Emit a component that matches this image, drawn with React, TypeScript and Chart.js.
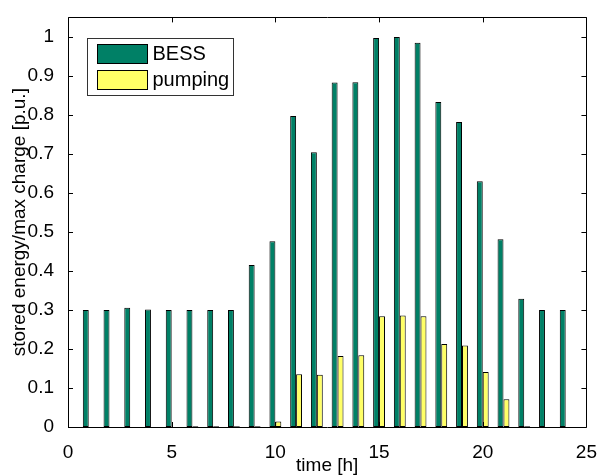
import React, { useEffect, useRef } from "react";
import { Chart, registerables } from "chart.js";

Chart.register(...registerables);

const hours = [1, 2, 3, 4, 5, 6, 7, 8, 9, 10, 11, 12, 13, 14, 15, 16, 17, 18, 19, 20, 21, 22, 23, 24];
const bess = [0.3, 0.3, 0.306, 0.301, 0.3, 0.3, 0.3, 0.3, 0.415, 0.476, 0.797, 0.704, 0.883, 0.884, 0.997, 1.0, 0.985, 0.833, 0.782, 0.63, 0.481, 0.329, 0.3, 0.3];
const pumping = [0, 0, 0, 0, 0, 0.002, 0.002, 0.002, 0.002, 0.014, 0.135, 0.134, 0.182, 0.184, 0.284, 0.286, 0.284, 0.213, 0.209, 0.141, 0.071, 0.002, 0, 0];
const xTicks = [0, 5, 10, 15, 20, 25];
const yTicks = [0, 0.1, 0.2, 0.3, 0.4, 0.5, 0.6, 0.7, 0.8, 0.9, 1];
const seriesLabels = ["BESS", "pumping"];
const seriesColors = ["#008066", "#ffff66"];

const FONT = "'Liberation Sans', Arial, Helvetica, sans-serif";
const FS = 19;

const framePlugin = {
  id: "frameTicks",
  afterDatasetsDraw(chart: any) {
    const { ctx, chartArea: ca, scales } = chart;
    const tl = 5;
    ctx.save();
    ctx.strokeStyle = "#000";
    ctx.lineWidth = 1;
    ctx.beginPath();
    ctx.rect(Math.round(ca.left) + 0.5, Math.round(ca.top) + 0.5, Math.round(ca.right - ca.left), Math.round(ca.bottom - ca.top));
    for (const v of xTicks) {
      const x = Math.round(scales.x.getPixelForValue(v)) + 0.5;
      ctx.moveTo(x, ca.bottom);
      ctx.lineTo(x, ca.bottom - tl);
      ctx.moveTo(x, ca.top);
      ctx.lineTo(x, ca.top + tl);
    }
    for (const v of yTicks) {
      const y = Math.round(scales.y.getPixelForValue(v)) + 0.5;
      ctx.moveTo(ca.left, y);
      ctx.lineTo(ca.left + tl, y);
      ctx.moveTo(ca.right, y);
      ctx.lineTo(ca.right - tl, y);
    }
    ctx.stroke();

    // legend
    const bx = Math.round(ca.left) + 19.5;
    const by = Math.round(ca.top) + 21.5;
    const bw = 146;
    const bh = 57;
    ctx.fillStyle = "#fff";
    ctx.fillRect(bx, by, bw, bh);
    ctx.strokeStyle = "#333";
    ctx.strokeRect(bx, by, bw, bh);
    ctx.font = `20px ${FONT}`;
    ctx.textBaseline = "middle";
    ctx.textAlign = "left";
    chart.data.datasets.forEach((ds: any, i: number) => {
      const py = by + 6 + i * 26;
      ctx.fillStyle = ds.backgroundColor;
      ctx.fillRect(bx + 10, py, 50, 19);
      ctx.strokeStyle = "#000";
      ctx.strokeRect(bx + 10, py, 50, 19);
      ctx.fillStyle = "#000";
      ctx.fillText(ds.label, bx + 65, py + 10);
    });
    ctx.restore();
  },
};

export default function App() {
  const ref = useRef<HTMLCanvasElement>(null);
  useEffect(() => {
    document.body.style.margin = "0";
    Chart.defaults.font.family = FONT;
    Chart.defaults.color = "#000";
    const chart = new Chart(ref.current!, {
      type: "bar",
      data: {
        datasets: [bess, pumping].map((vals, i) => ({
          label: seriesLabels[i],
          data: hours.map((h, j) => ({ x: h, y: vals[j] })),
          backgroundColor: seriesColors[i],
          borderColor: "#000",
          borderWidth: 1,
          borderSkipped: false,
          categoryPercentage: 0.571,
          barPercentage: 1.0,
        })),
      },
      options: {
        animation: false,
        responsive: false,
        layout: { padding: { top: 12, right: 10, left: 0, bottom: 0 } },
        plugins: { legend: { display: false }, tooltip: { enabled: false } },
        scales: {
          x: {
            type: "linear",
            min: 0,
            max: 25,
            offset: false,
            grid: { display: false },
            border: { display: false },
            ticks: { font: { size: FS }, padding: 6, maxRotation: 0 },
            afterBuildTicks: (s: any) => {
              s.ticks = xTicks.map((v) => ({ value: v }));
            },
            afterFit: (s: any) => {
              s.height = 48;
            },
            title: {
              display: true,
              text: "time [h]",
              font: { size: FS, lineHeight: 1.0 },
              padding: { top: 0, bottom: 0 },
            },
          },
          y: {
            type: "linear",
            min: 0,
            max: 1.05,
            grid: { display: false },
            border: { display: false },
            ticks: {
              font: { size: FS },
              padding: 6,
              callback: (v: any) => String(+Number(v).toFixed(2)),
            },
            afterBuildTicks: (s: any) => {
              s.ticks = yTicks.map((v) => ({ value: v }));
            },
            afterFit: (s: any) => {
              s.width = 68;
            },
            title: {
              display: true,
              text: "stored energy/max charge [p.u.]",
              font: { size: FS },
              padding: { top: 8, bottom: 0 },
            },
          },
        },
      },
      plugins: [framePlugin],
    } as any);
    return () => chart.destroy();
  }, []);
  return (
    <div style={{ width: 603, height: 475 }}>
      <canvas ref={ref} width={603} height={475} />
    </div>
  );
}
